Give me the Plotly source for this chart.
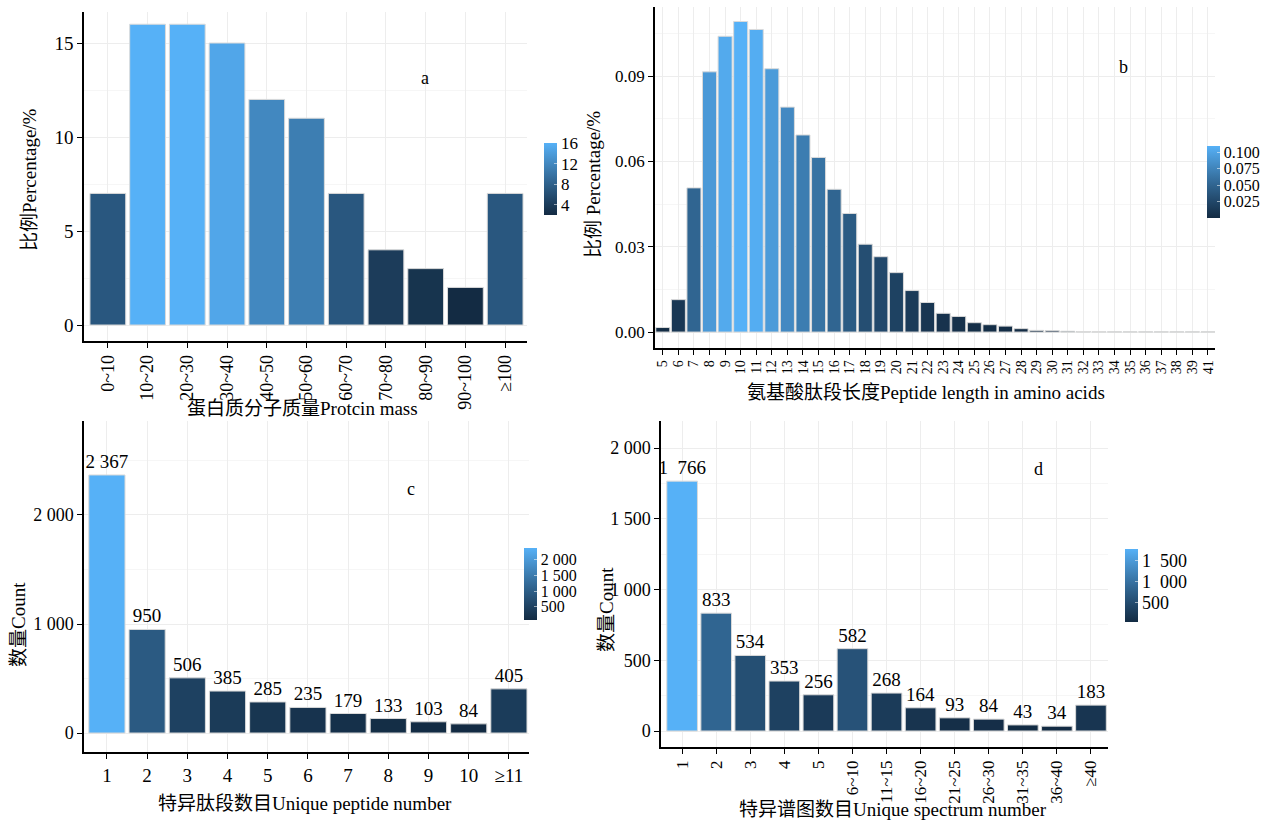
import plotly.graph_objects as go

W, H = 1286, 820

# ---------------- data ----------------
mass_cats = ["0~10", "10~20", "20~30", "30~40", "40~50", "50~60",
             "60~70", "70~80", "80~90", "90~100", "≥100"]
mass_pct = [7, 16, 16, 15, 12, 11, 7, 4, 3, 2, 7]

len_cats = ["5", "6", "7", "8", "9", "10", "11", "12", "13", "14", "15", "16",
            "17", "18", "19", "20", "21", "22", "23", "24", "25", "26", "27",
            "28", "29", "30", "31", "32", "33", "34", "35", "36", "37", "38",
            "39", "41"]
len_pct = [0.0016, 0.0114, 0.0507, 0.0915, 0.1040, 0.1092, 0.1064, 0.0926,
           0.0791, 0.0693, 0.0614, 0.0502, 0.0417, 0.0309, 0.0265, 0.0209,
           0.0146, 0.0104, 0.0066, 0.0055, 0.0033, 0.0026, 0.0021, 0.0012,
           0.0006, 0.0005, 0.0003, 0.0002, 0.0002, 0.0001, 0.0001, 0.0001,
           0.0001, 0.0001, 0.0001, 0.0001]

pep_cats = ["1", "2", "3", "4", "5", "6", "7", "8", "9", "10", "≥11"]
pep_counts = [2367, 950, 506, 385, 285, 235, 179, 133, 103, 84, 405]

spec_cats = ["1", "2", "3", "4", "5", "6~10", "11~15", "16~20", "21~25",
             "26~30", "31~35", "36~40", "≥40"]
spec_counts = [1766, 833, 534, 353, 256, 582, 268, 164, 93, 84, 43, 34, 183]

a_yticks = [0, 5, 10, 15]
b_yticks = [0, 0.03, 0.06, 0.09]
b_yticktext = ["0.00", "0.03", "0.06", "0.09"]
c_yticks = [0, 1000, 2000]
c_yticktext = ["0", "1 000", "2 000"]
d_yticks = [0, 500, 1000, 1500, 2000]
d_yticktext = ["0", "500", "1 000", "1 500", "2 000"]
a_cbticks = [4, 8, 12, 16]
a_cbtext = ["4", "8", "12", "16"]
b_cbticks = [0.025, 0.050, 0.075, 0.100]
b_cbtext = ["0.025", "0.050", "0.075", "0.100"]
c_cbticks = [500, 1000, 1500, 2000]
c_cbtext = ["500", "1 000", "1 500", "2 000"]
d_cbticks = [500, 1000, 1500]
d_cbtext = ["500", "1  000", "1  500"]


# ---------------- colour scale (ggplot default, Lab interpolation) -------
def _hex2rgb(h):
    h = h.lstrip("#")
    return [int(h[i:i + 2], 16) / 255 for i in (0, 2, 4)]


def _lin(c):
    return c / 12.92 if c <= 0.04045 else ((c + 0.055) / 1.055) ** 2.4


def _gam(c):
    c = max(0.0, min(1.0, c))
    return 12.92 * c if c <= 0.0031308 else 1.055 * c ** (1 / 2.4) - 0.055


WHITE = (0.95047, 1.0, 1.08883)


def _to_lab(h):
    r, g, b = [_lin(c) for c in _hex2rgb(h)]
    X = 0.4124 * r + 0.3576 * g + 0.1805 * b
    Y = 0.2126 * r + 0.7152 * g + 0.0722 * b
    Z = 0.0193 * r + 0.1192 * g + 0.9505 * b
    def f(t):
        return t ** (1 / 3) if t > 0.008856 else 7.787 * t + 16 / 116
    fx, fy, fz = f(X / WHITE[0]), f(Y / WHITE[1]), f(Z / WHITE[2])
    return (116 * fy - 16, 500 * (fx - fy), 200 * (fy - fz))


def _from_lab(L, a, b):
    fy = (L + 16) / 116
    fx = fy + a / 500
    fz = fy - b / 200
    def finv(t):
        return t ** 3 if t ** 3 > 0.008856 else (t - 16 / 116) / 7.787
    X, Y, Z = finv(fx) * WHITE[0], finv(fy) * WHITE[1], finv(fz) * WHITE[2]
    r = 3.2406 * X - 1.5372 * Y - 0.4986 * Z
    g = -0.9689 * X + 1.8758 * Y + 0.0415 * Z
    bb = 0.0557 * X - 0.2040 * Y + 1.0570 * Z
    return "#%02x%02x%02x" % tuple(int(round(_gam(c) * 255)) for c in (r, g, bb))


lo, hi = _to_lab("#132B43"), _to_lab("#56B1F7")
NSTOP = 10
CSCALE = [[i / NSTOP, _from_lab(*[lo[k] + (hi[k] - lo[k]) * i / NSTOP for k in range(3)])]
          for i in range(NSTOP + 1)]

# ---------------- style helpers ----------------
SERIF = "Liberation Serif, Noto Sans CJK SC, serif"
GRID = "#EDEDED"
MINOR = "#F6F6F6"


def px_x(x):
    return x / W


def px_y(y):
    return 1 - y / H


def cbar(x0, y0, y1, tickvals, ticktext, size=17):
    return dict(x=px_x(x0), xanchor="left", xref="paper",
                y=px_y((y0 + y1) / 2), yanchor="middle", yref="paper",
                len=y1 - y0, lenmode="pixels", thickness=13,
                thicknessmode="pixels", xpad=0, ypad=0, outlinewidth=0,
                ticks="inside", ticklen=3, tickcolor="rgba(255,255,255,0.55)",
                tickvals=tickvals, ticktext=ticktext,
                tickfont=dict(family=SERIF, size=size, color="black"))


def fmt(v):
    return f"{v:,}".replace(",", " ")


BAR_LINE = dict(color="#DADADA", width=1)

fig = go.Figure()

# panel a
fig.add_trace(go.Bar(
    x=mass_cats, y=mass_pct, xaxis="x", yaxis="y", width=0.9,
    marker=dict(color=mass_pct, colorscale=CSCALE, cmin=min(mass_pct),
                cmax=max(mass_pct), line=BAR_LINE,
                colorbar=cbar(544, 143, 215, a_cbticks, a_cbtext)),
    showlegend=False, hoverinfo="x+y"))

# panel b
fig.add_trace(go.Bar(
    x=len_cats, y=len_pct, xaxis="x2", yaxis="y2", width=0.9,
    marker=dict(color=len_pct, colorscale=CSCALE, cmin=min(len_pct),
                cmax=max(len_pct), line=BAR_LINE,
                colorbar=cbar(1207, 146, 218, b_cbticks, b_cbtext, 16)),
    showlegend=False, hoverinfo="x+y"))

# panel c
fig.add_trace(go.Bar(
    x=pep_cats, y=pep_counts, xaxis="x3", yaxis="y3", width=0.9,
    marker=dict(color=pep_counts, colorscale=CSCALE, cmin=min(pep_counts),
                cmax=max(pep_counts), line=BAR_LINE,
                colorbar=cbar(524, 548, 620, c_cbticks, c_cbtext, 16)),
    text=[fmt(v) for v in pep_counts], textposition="outside",
    constraintext="none", cliponaxis=False,
    textfont=dict(family=SERIF, size=19, color="black"),
    showlegend=False, hoverinfo="x+y"))

# panel d
fig.add_trace(go.Bar(
    x=spec_cats, y=spec_counts, xaxis="x4", yaxis="y4", width=0.9,
    marker=dict(color=spec_counts, colorscale=CSCALE, cmin=min(spec_counts),
                cmax=max(spec_counts), line=BAR_LINE,
                colorbar=cbar(1125, 549, 622, d_cbticks, d_cbtext, 18)),
    text=[fmt(v).replace(" ", "  ") for v in spec_counts], textposition="outside",
    constraintext="none", cliponaxis=False,
    textfont=dict(family=SERIF, size=19, color="black"),
    showlegend=False, hoverinfo="x+y"))


def xax(x0, x1, y_anchor, rng, angle, size, cats):
    return dict(domain=[px_x(x0), px_x(x1)], anchor=y_anchor, type="category",
                range=rng, showline=True, linecolor="black", linewidth=1.5,
                ticks="outside", ticklen=5, tickwidth=1.2, tickcolor="black",
                tickmode="array", tickvals=cats, ticktext=cats,
                showgrid=True, gridcolor=GRID, gridwidth=1, zeroline=False,
                tickangle=angle, tickfont=dict(family=SERIF, size=size, color="black"),
                fixedrange=True)


def yax(y_top, y_bot, x_anchor, rng, tv, tt, minor_dtick, size=18):
    return dict(domain=[px_y(y_bot), px_y(y_top)], anchor=x_anchor, range=rng,
                showline=True, linecolor="black", linewidth=1.5,
                ticks="outside", ticklen=5, tickwidth=1.2, tickcolor="black",
                tickvals=tv, ticktext=tt, showgrid=True, gridcolor=GRID,
                gridwidth=1, zeroline=False,
                minor=dict(dtick=minor_dtick, tick0=0, showgrid=True,
                           gridcolor=MINOR, gridwidth=1, ticks=""),
                tickfont=dict(family=SERIF, size=size, color="black"),
                fixedrange=True)


fig.update_layout(
    width=W, height=H, autosize=False,
    margin=dict(l=0, r=0, t=0, b=0),
    paper_bgcolor="white", plot_bgcolor="white",
    font=dict(family=SERIF, color="black"),
    bargap=0.1,
    xaxis=xax(84, 527, "y", [-0.6, 10.55], -90, 18, mass_cats),
    yaxis=yax(12, 341, "x", [-0.85, 16.65], a_yticks,
              [str(v) for v in a_yticks], 2.5, 19),
    xaxis2=xax(655, 1215, "y2", [-0.5, 35.45], -90, 14, len_cats),
    yaxis2=yax(7, 348, "x2", [-0.0056, 0.1143], b_yticks, b_yticktext, 0.015, 17),
    xaxis3=xax(84, 529, "y3", [-0.57, 10.5], 0, 19, pep_cats),
    yaxis3=yax(421, 752, "x3", [-174, 2862], c_yticks, c_yticktext, 500),
    xaxis4=xax(661, 1108, "y4", [-0.62, 12.5], -90, 17, spec_cats),
    yaxis4=yax(421, 747, "x4", [-113, 2191], d_yticks, d_yticktext, 250),
)


def ann(text, x, y, angle=0, size=18):
    return dict(text=text, x=px_x(x), y=px_y(y), xref="paper", yref="paper",
                xanchor="center", yanchor="middle", showarrow=False,
                textangle=angle, font=dict(family=SERIF, size=size, color="black"))


fig.update_layout(annotations=[
    ann("蛋白质分子质量Protcin mass", 302, 408, 0, 19),
    ann("比例Percentage/%", 30, 180, -90, 19),
    ann("氨基酸肽段长度Peptide length in amino acids", 926, 392, 0, 19),
    ann("比例 Percentage/%", 594, 185, -90, 19),
    ann("特异肽段数目Unique peptide number", 305, 803, 0, 19),
    ann("数量Count", 18, 625, -90, 19),
    ann("特异谱图数目Unique spectrum number", 893, 809, 0, 19),
    ann("数量Count", 606, 610, -90, 19),
    ann("a", 425, 78, 0, 18),
    ann("b", 1123, 67, 0, 18),
    ann("c", 411, 489, 0, 18),
    ann("d", 1038, 469, 0, 18),
])

fig.write_html("out.html")
